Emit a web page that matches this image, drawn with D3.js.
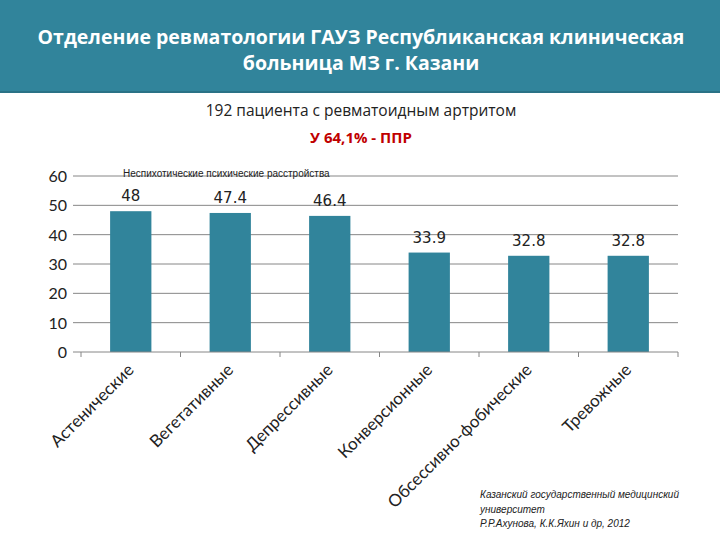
<!DOCTYPE html>
<html>
<head>
<meta charset="utf-8">
<script src="https://cdn.jsdelivr.net/npm/d3@7"></script>
<style>
  body { margin: 0; background: #fff; }
  svg { display: block; }
</style>
</head>
<body>
<div id="chart"></div>
<script>
var categories = ["Астенические", "Вегетативные", "Депрессивные", "Конверсионные", "Обсессивно-фобические", "Тревожные"];
var values = [48, 47.4, 46.4, 33.9, 32.8, 32.8];
var yTicks = [0, 10, 20, 30, 40, 50, 60];
var titleLines = ["Отделение ревматологии ГАУЗ Республиканская клиническая", "больница МЗ г. Казани"];
var subtitle = "192 пациента с ревматоидным артритом";
var highlight = "У 64,1% - ППР";
var seriesName = "Неспихотические психические расстройства";
var sourceLines = ["Казанский государственный медицинский", "университет", "Р.Р.Ахунова, К.К.Яхин и др, 2012"];

var width = 720, height = 540;
var teal = "#31849b";

var svg = d3.select("#chart").append("svg")
            .attr("width", width)
            .attr("height", height);

// header band
svg.append("rect")
   .attr("x", 0).attr("y", 0)
   .attr("width", width).attr("height", 93)
   .style("fill", teal);
svg.append("rect")
   .attr("x", 0).attr("y", 91)
   .attr("width", width).attr("height", 2)
   .style("fill", "#2a7286");

svg.selectAll(".title")
   .data(titleLines)
   .enter()
   .append("text")
   .attr("class", "title")
   .attr("x", 361)
   .attr("y", function (d, i) { return 44 + i * 26; })
   .attr("text-anchor", "middle")
   .style("font-family", "'Open Sans', sans-serif")
   .style("font-weight", "bold")
   .style("font-size", "19.5px")
   .style("fill", "#fff")
   .text(function (d) { return d; });

svg.append("text")
   .attr("x", 361).attr("y", 116)
   .attr("text-anchor", "middle")
   .style("font-family", "'Open Sans', sans-serif")
   .style("font-size", "15.5px")
   .style("fill", "#222")
   .text(subtitle);

svg.append("text")
   .attr("x", 361).attr("y", 143)
   .attr("text-anchor", "middle")
   .style("font-family", "'Open Sans', sans-serif")
   .style("font-weight", "bold")
   .style("font-size", "15px")
   .style("fill", "#c00000")
   .text(highlight);

// chart
var x = d3.scaleBand()
          .domain(categories)
          .range([81, 678])
          .paddingInner(0.585)
          .paddingOuter(0.2925);

var y = d3.scaleLinear()
          .domain([0, 60])
          .range([352, 176]);

var grid = svg.append("g");
grid.selectAll("line")
    .data(yTicks.filter(function (d) { return d > 0; }))
    .enter()
    .append("line")
    .attr("x1", 73).attr("x2", 678)
    .attr("y1", function (d) { return y(d); })
    .attr("y2", function (d) { return y(d); })
    .style("stroke", "#868686")
    .style("stroke-width", 1);

svg.selectAll(".ylab")
   .data(yTicks)
   .enter()
   .append("text")
   .attr("class", "ylab")
   .attr("x", 67)
   .attr("y", function (d) { return y(d) + 6; })
   .attr("text-anchor", "end")
   .style("font-family", "Lato, sans-serif")
   .style("font-size", "16px")
   .style("fill", "#222")
   .text(function (d) { return d; });

svg.selectAll(".bar")
   .data(values)
   .enter()
   .append("rect")
   .attr("class", "bar")
   .attr("x", function (d, i) { return x(categories[i]); })
   .attr("y", function (d) { return y(d); })
   .attr("width", x.bandwidth())
   .attr("height", function (d) { return y(0) - y(d); })
   .style("fill", teal);

// baseline axis with ticks between categories
var step = x.step();
var boundaries = d3.range(categories.length + 1).map(function (i) { return 81 + i * step; });
svg.append("line")
   .attr("x1", 73).attr("x2", 678)
   .attr("y1", y(0)).attr("y2", y(0))
   .style("stroke", "#868686");
svg.selectAll(".xtick")
   .data(boundaries)
   .enter()
   .append("line")
   .attr("class", "xtick")
   .attr("x1", function (d) { return d; })
   .attr("x2", function (d) { return d; })
   .attr("y1", y(0)).attr("y2", y(0) + 5)
   .style("stroke", "#868686");

svg.selectAll(".vlab")
   .data(values)
   .enter()
   .append("text")
   .attr("class", "vlab")
   .attr("x", function (d, i) { return x(categories[i]) + x.bandwidth() / 2; })
   .attr("y", function (d) { return y(d) - 10; })
   .attr("text-anchor", "middle")
   .style("font-family", "'DejaVu Sans', sans-serif")
   .style("font-size", "15px")
   .style("fill", "#222")
   .text(function (d) { return d; });

svg.append("text")
   .attr("x", 123).attr("y", 177)
   .style("font-family", "'Liberation Sans', Arial, sans-serif")
   .style("font-size", "10px")
   .style("fill", "#222")
   .text(seriesName);

svg.selectAll(".xlab")
   .data(categories)
   .enter()
   .append("text")
   .attr("class", "xlab")
   .attr("transform", function (d) {
     return "translate(" + (x(d) + x.bandwidth() / 2 + 4) + "," + (y(0) + 19) + ") rotate(-45)";
   })
   .attr("text-anchor", "end")
   .style("font-family", "Lato, sans-serif")
   .style("font-size", "17px")
   .style("fill", "#222")
   .text(function (d) { return d; });

svg.selectAll(".src")
   .data(sourceLines)
   .enter()
   .append("text")
   .attr("class", "src")
   .attr("x", 480)
   .attr("y", function (d, i) { return 498 + i * 14.5; })
   .style("font-family", "'Liberation Sans Narrow', 'Liberation Sans', sans-serif")
   .style("font-style", "italic")
   .style("font-size", "10px")
   .style("fill", "#222")
   .text(function (d) { return d; });
</script>
</body>
</html>
